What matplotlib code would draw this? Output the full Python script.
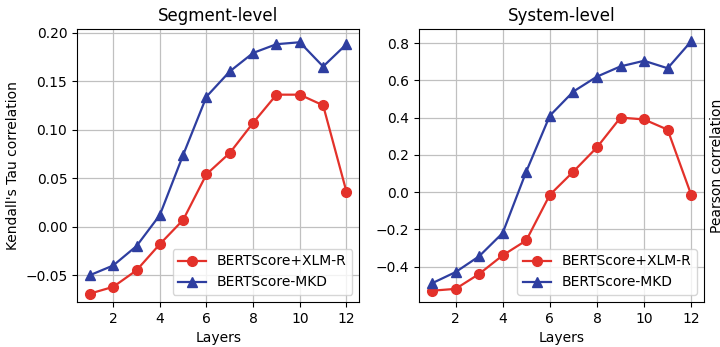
import numpy as np
import matplotlib
matplotlib.use("Agg")
import matplotlib.pyplot as plt

RED = "#e3312a"
BLUE = "#2e3ea0"

layers = list(range(1, 13))

seg_xlmr = [-0.069, -0.062, -0.045, -0.018, 0.007, 0.054, 0.076, 0.107, 0.136, 0.136, 0.125, 0.036]
seg_mkd = [-0.050, -0.040, -0.020, 0.012, 0.074, 0.134, 0.160, 0.179, 0.188, 0.190, 0.165, 0.188]

sys_xlmr = [-0.53, -0.52, -0.44, -0.34, -0.26, -0.015, 0.11, 0.24, 0.40, 0.39, 0.335, -0.015]
sys_mkd = [-0.49, -0.43, -0.345, -0.22, 0.11, 0.41, 0.54, 0.62, 0.675, 0.705, 0.665, 0.81]

fig = plt.figure(figsize=(7.2, 3.47), dpi=100)
ax1 = fig.add_axes([0.107, 0.130, 0.392, 0.786])
ax2 = fig.add_axes([0.582, 0.130, 0.396, 0.786])

for ax, xl, mk, title in [(ax1, seg_xlmr, seg_mkd, "Segment-level"),
                          (ax2, sys_xlmr, sys_mkd, "System-level")]:
    ax.plot(layers, xl, marker="o", markersize=7, color=RED, linewidth=1.6,
            label="BERTScore+XLM-R")
    ax.plot(layers, mk, marker="^", markersize=7, color=BLUE, linewidth=1.6,
            label="BERTScore-MKD")
    ax.set_title(title, fontsize=12)
    ax.set_xlabel("Layers", fontsize=10)
    ax.set_xticks([2, 4, 6, 8, 10, 12])
    ax.grid(True, color="#c0c0c0", linewidth=0.9)
    ax.set_axisbelow(True)
    ax.tick_params(labelsize=10)
    ax.legend(loc="lower right", fontsize=10)

ax1.set_ylim(-0.0775, 0.2035)
ax1.set_yticks([-0.05, 0.0, 0.05, 0.10, 0.15, 0.20])
ax1.set_ylabel("Kendall's Tau correlation", fontsize=10)

ax2.set_ylim(-0.59, 0.875)
ax2.set_yticks([-0.4, -0.2, 0.0, 0.2, 0.4, 0.6, 0.8])
ax2.yaxis.set_label_position("right")
ax2.set_ylabel("Pearson correlation", fontsize=10)

fig.savefig("out.png", dpi=100)
